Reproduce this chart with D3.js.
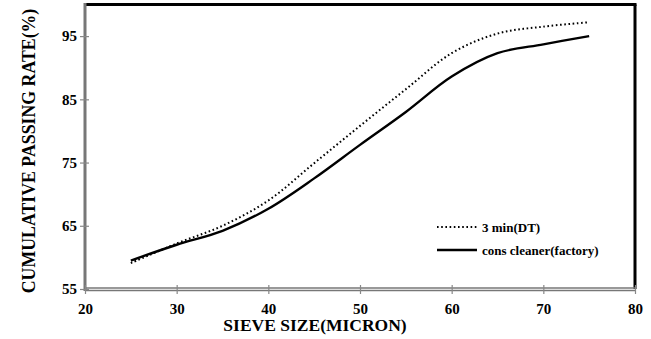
<!doctype html>
<html>
  <head>
    <meta charset="utf-8">
    <title>Cumulative passing rate</title>
    <style>
      * { margin: 0; padding: 0; }
      body { background: #fff; }
    </style>
    <script src="https://d3js.org/d3.v7.min.js"></script>
  </head>
  <body>
    <script>
    // sieve sizes (micron) and the two curves
    const sizes = [25, 30, 35, 40, 45, 50, 55, 60, 65, 70, 75];
    const dt3min = [59.1, 62.2, 65.0, 69.0, 74.9, 80.8, 86.6, 92.3, 95.4, 96.5, 97.2];
    const consCleaner = [59.5, 62.0, 64.2, 67.7, 72.5, 77.8, 83.0, 88.6, 92.3, 93.7, 95.0];
    const xTicks = [20, 30, 40, 50, 60, 70, 80];
    const yTicks = [55, 65, 75, 85, 95];
    const seriesNames = ["3 min(DT)", "cons cleaner(factory)"];

    const W = 651, H = 339;
    const pL = 85, pR = 635, pT = 4.5, pB = 289;
    const serif = "'Liberation Serif', 'Times New Roman', Times, serif";

    const svg = d3.select("body").append("svg").attr("width", W).attr("height", H);

    const x = d3.scaleLinear().domain([20, 80]).range([pL, pR]);
    const y = d3.scaleLinear().domain([55, 100]).range([pB, pT]);

    // frame: top and right black, left/bottom grey axes
    svg.append("line").attr("x1", pL).attr("x2", pR + 1.5).attr("y1", pT).attr("y2", pT)
      .attr("stroke", "#000").attr("stroke-width", 3);
    svg.append("line").attr("x1", pR).attr("x2", pR).attr("y1", pT).attr("y2", pB)
      .attr("stroke", "#000").attr("stroke-width", 3);

    // x axis (double grey line)
    svg.append("line").attr("x1", pL).attr("x2", pR).attr("y1", pB - 1).attr("y2", pB - 1)
      .attr("stroke", "#777").attr("stroke-width", 1.5);
    svg.append("line").attr("x1", pL).attr("x2", pR).attr("y1", pB + 1.5).attr("y2", pB + 1.5)
      .attr("stroke", "#777").attr("stroke-width", 1.5);
    svg.append("line").attr("x1", pL).attr("x2", pL).attr("y1", pT - 1.5).attr("y2", pB + 2)
      .attr("stroke", "#777").attr("stroke-width", 3);

    const xAxis = svg.append("g").attr("transform", "translate(0," + (pB - 4) + ")")
      .call(d3.axisBottom(x).tickValues(xTicks).tickSize(9).tickPadding(6));
    xAxis.select(".domain").remove();
    xAxis.selectAll("line").attr("stroke", "#888").attr("stroke-width", 1.2);
    xAxis.selectAll("text").style("font-size", "15px").style("font-family", serif).style("font-weight", "bold")
      .attr("fill", "#000").attr("dy", "0.9em");

    const yAxis = svg.append("g").attr("transform", "translate(" + (pL + 4) + ",0)")
      .call(d3.axisLeft(y).tickValues(yTicks).tickSize(9).tickPadding(3));
    yAxis.select(".domain").remove();
    yAxis.selectAll("line").attr("stroke", "#888").attr("stroke-width", 1.2);
    yAxis.selectAll("text").style("font-size", "15px").style("font-family", serif).style("font-weight", "bold")
      .attr("fill", "#000");

    // curves
    const line = d3.line()
      .x(d => x(d[0]))
      .y(d => y(d[1]))
      .curve(d3.curveCatmullRom.alpha(0.5));

    svg.append("path").datum(sizes.map((s, i) => [s, dt3min[i]]))
      .attr("d", line).attr("fill", "none").attr("stroke", "#000")
      .attr("stroke-width", 2).attr("stroke-dasharray", "1.6,2.6");
    svg.append("path").datum(sizes.map((s, i) => [s, consCleaner[i]]))
      .attr("d", line).attr("fill", "none").attr("stroke", "#000")
      .attr("stroke-width", 2.4);

    // legend
    const legend = svg.append("g");
    legend.append("line").attr("x1", 437).attr("x2", 477).attr("y1", 227).attr("y2", 227)
      .attr("stroke", "#000").attr("stroke-width", 2).attr("stroke-dasharray", "1.6,2.6");
    legend.append("line").attr("x1", 437).attr("x2", 477).attr("y1", 250).attr("y2", 250)
      .attr("stroke", "#000").attr("stroke-width", 2.4);
    legend.selectAll("text.lg").data(seriesNames).join("text")
      .attr("class", "lg")
      .attr("x", 482)
      .attr("y", (d, i) => 227 + i * 23)
      .attr("dy", "0.35em")
      .style("font-family", serif).style("font-weight", "bold").style("font-size", "13px")
      .text(d => d);

    // axis titles
    svg.append("text").attr("x", 315).attr("y", 331).attr("text-anchor", "middle")
      .style("font-family", serif).style("font-weight", "bold").style("font-size", "17.5px")
      .text("SIEVE SIZE(MICRON)");
    svg.append("text").attr("transform", "translate(35,151) rotate(-90)").attr("text-anchor", "middle")
      .style("font-family", serif).style("font-weight", "bold").style("font-size", "17.8px")
      .text("CUMULATIVE PASSING RATE(%)");
    </script>
  </body>
</html>
